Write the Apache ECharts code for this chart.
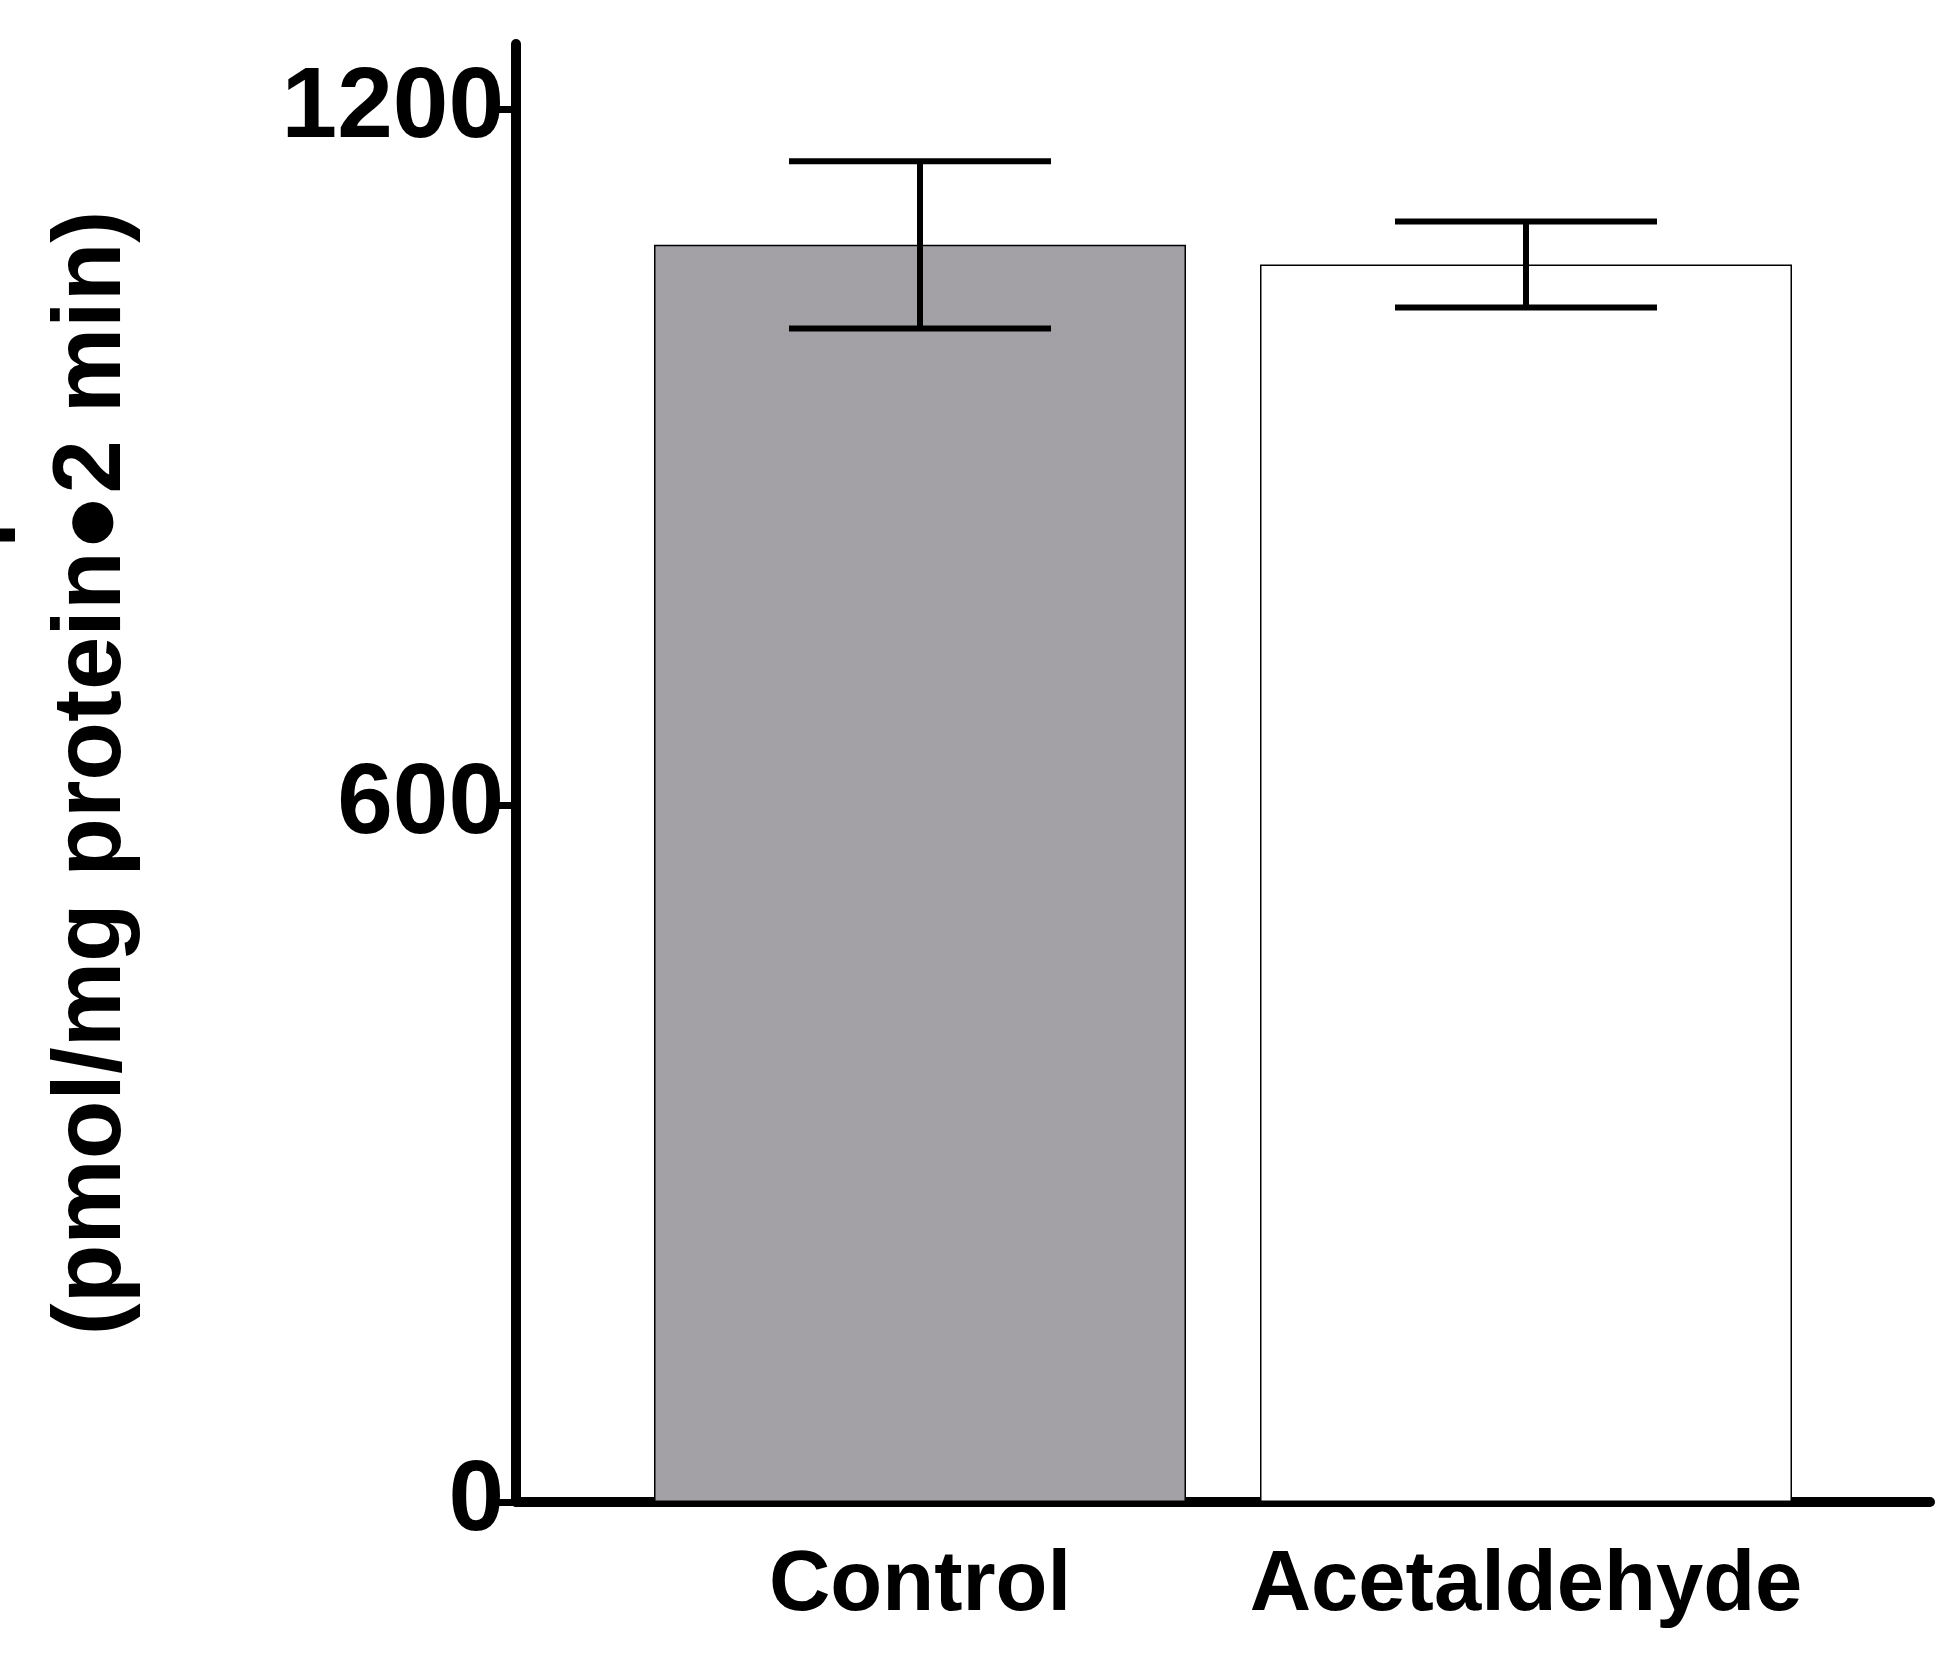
<!DOCTYPE html><html><head><meta charset="utf-8"><script src="https://cdn.jsdelivr.net/npm/echarts@6/dist/echarts.min.js"></script></head><body style="margin:0;background:#fff"><div id="c" style="width:1948px;height:1656px"></div><script>
var categories=['Control','Acetaldehyde'];
var positions=[2,5];
var means=[1083,1066];
var errors=[72,37];
var colors=['#a3a1a6','#ffffff'];
var yTicks=[0,600,1200];
var chart=echarts.init(document.getElementById('c'));
var F='Liberation Sans, Arial, sans-serif';
chart.setOption({
 animation:false,
 grid:{left:516,right:18,top:44,bottom:154,containLabel:false,outerBoundsMode:'none'},
 xAxis:{type:'value',min:0,max:7,interval:1,splitLine:{show:false},
  axisLine:{lineStyle:{color:'#000',width:10}},axisTick:{show:false},
  axisLabel:{margin:42,color:'#000',fontFamily:F,fontWeight:'bold',fontSize:85,
   formatter:function(v){var i=positions.indexOf(v);return i>=0?categories[i]:'';}}},
 yAxis:{type:'value',min:0,max:1256,interval:600,splitLine:{show:false},
  axisLine:{show:true,lineStyle:{color:'#000',width:10}},
  axisTick:{show:true,length:22,lineStyle:{color:'#000',width:7},interval:function(i,v){return yTicks.indexOf(+v)>=0;}},
  axisLabel:{showMaxLabel:false,margin:12,color:'#000',fontFamily:F,fontWeight:'bold',fontSize:100,
   formatter:function(v){return yTicks.indexOf(v)>=0?String(v):'';}},
  name:'{s|3}H-Glutamine Uptake\n(pmol/mg protein\u25CF2 min)',nameLocation:'middle',nameGap:360,nameRotate:90,
  nameTextStyle:{color:'#000',fontFamily:F,fontWeight:'bold',fontSize:96,lineHeight:125,
   rich:{s:{fontFamily:F,fontWeight:'bold',fontSize:60,verticalAlign:'top',lineHeight:125,padding:[0,0,36,0]}}}},
 series:[
  {type:'bar',barWidth:532,data:positions.map(function(p,i){return {value:[p,means[i]],itemStyle:{color:colors[i],borderColor:'#000',borderWidth:1.5}};})},
  {type:'custom',data:positions.map(function(p,i){return [p,means[i]-errors[i],means[i]+errors[i]];}),
   renderItem:function(params,api){var x=api.value(0);var lo=api.coord([x,api.value(1)]);var hi=api.coord([x,api.value(2)]);var w=131;
    var st={stroke:'#000',lineWidth:6};
    return {type:'group',children:[
     {type:'line',shape:{x1:lo[0],y1:lo[1],x2:hi[0],y2:hi[1]},style:st},
     {type:'line',shape:{x1:lo[0]-w,y1:lo[1],x2:lo[0]+w,y2:lo[1]},style:st},
     {type:'line',shape:{x1:hi[0]-w,y1:hi[1],x2:hi[0]+w,y2:hi[1]},style:st}]};},z:10}
 ]});
</script></body></html>
